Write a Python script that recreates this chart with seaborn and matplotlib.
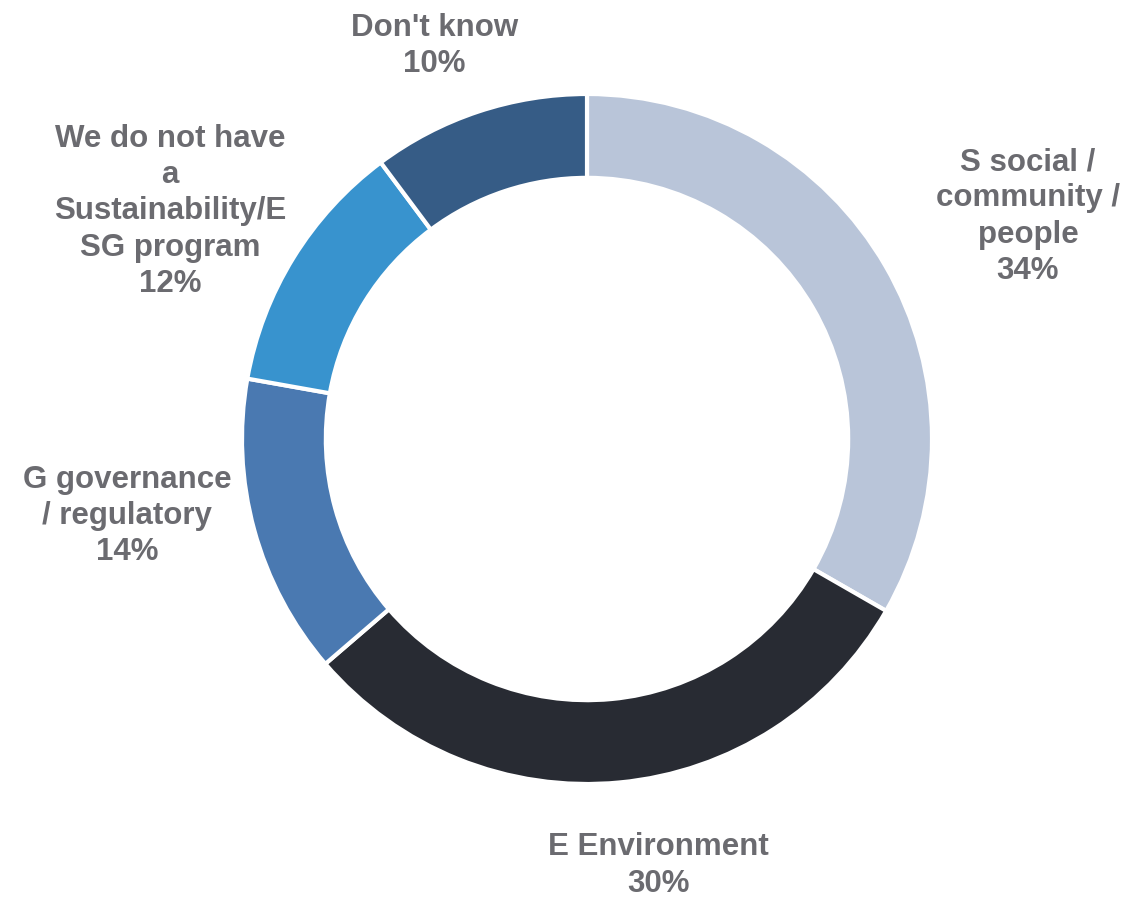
import matplotlib
matplotlib.use("Agg")
import matplotlib.pyplot as plt
import seaborn as sns

sns.set_theme(style="white")
plt.rcParams['font.family'] = ['Liberation Sans', 'DejaVu Sans']

categories = ["S social /\ncommunity /\npeople", "E Environment", "G governance\n/ regulatory",
              "We do not have\na\nSustainability/E\nSG program", "Don't know"]
# slice sizes as drawn in the picture
values = [33.3, 30.4, 14.1, 12.0, 10.2]
# percentage labels as printed
pct_labels = ["34%", "30%", "14%", "12%", "10%"]
colors = ["#B9C5D9", "#282B33", "#4A79B1", "#3893CE", "#365C86"]
label_pos = [(1.278, 0.645), (0.206, -1.236), (-1.333, -0.224), (-1.209, 0.660), (-0.443, 1.138)]

fig = plt.figure(figsize=(11.43, 9.01), dpi=100)
cx, cy, r = 587, 439, 345
ax = fig.add_axes([(cx - r) / 1143, (901 - cy - r) / 901, 2 * r / 1143, 2 * r / 901])
ax.pie(values, colors=colors, startangle=90, counterclock=False, radius=1.0,
       wedgeprops=dict(width=0.243, edgecolor="white", linewidth=3))
ax.set_xlim(-1, 1)
ax.set_ylim(-1, 1)
ax.set_aspect("equal")
ax.axis("off")

for cat, p, (x, y) in zip(categories, pct_labels, label_pos):
    ax.text(x, y, f"{cat}\n{p}", ha="center", va="center", fontsize=22.5, fontweight="bold",
            color="#6B6B70", linespacing=1.27, clip_on=False)

fig.savefig("out.png", dpi=100)
